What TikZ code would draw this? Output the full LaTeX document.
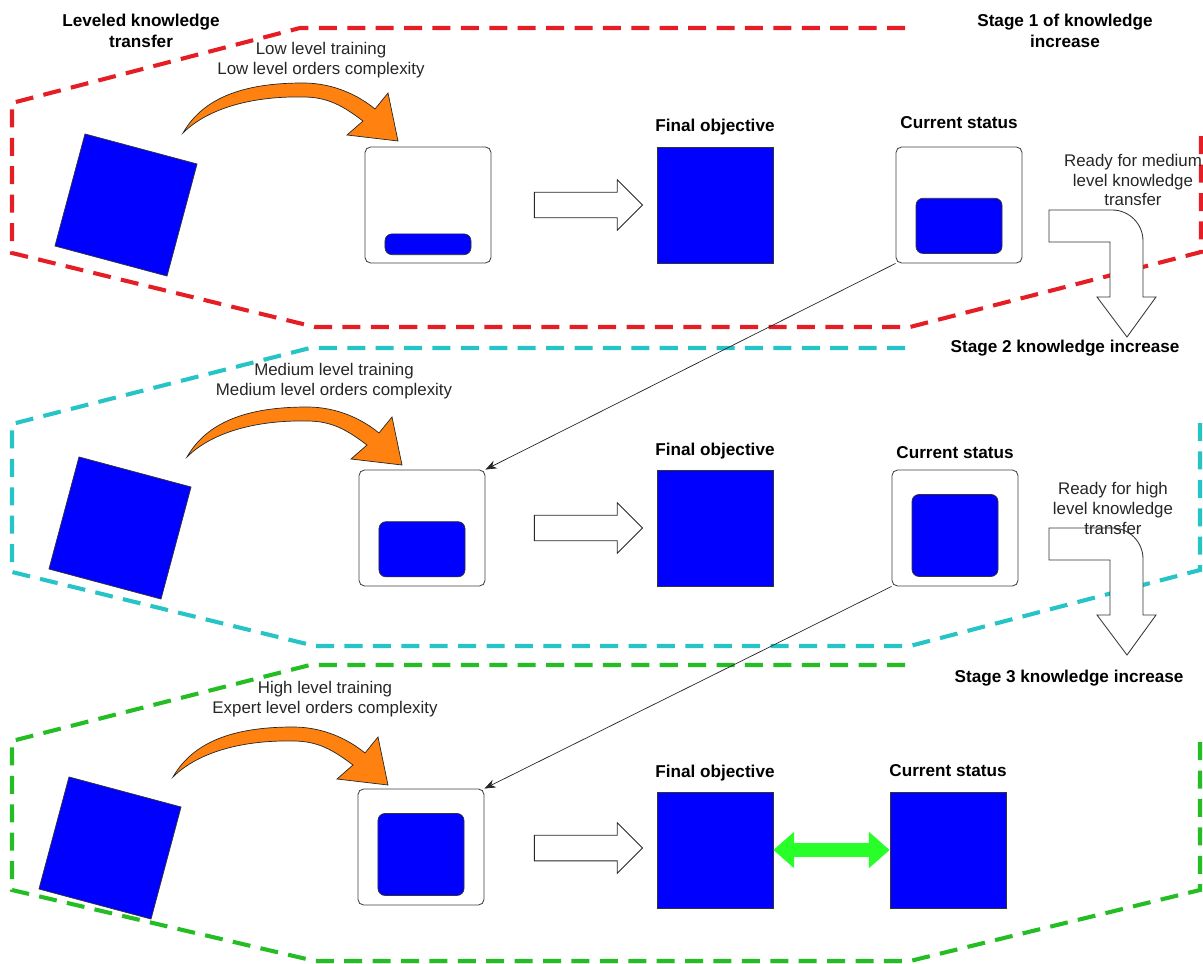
\documentclass[tikz,border=0pt]{standalone}
\usepackage{fontspec}
\setmainfont{Liberation Sans}
\usepackage{xcolor}
\usetikzlibrary{
    arrows.meta,
    positioning,
    calc,
    shapes.arrows
}
\definecolor{stageRed}{RGB}{228,30,36}
\definecolor{stageCyan}{RGB}{38,196,198}
\definecolor{stageGreen}{RGB}{36,190,36}
\definecolor{trainOrange}{RGB}{255,130,16}
\definecolor{matchGreen}{RGB}{40,255,40}
\tikzset{
  lbl/.style     = {font=\fontsize{12}{14.2}\selectfont, align=center, text=black!85},
  blbl/.style    = {font=\fontsize{12.2}{14.6}\selectfont\bfseries, align=center, text=black},
  frame/.style   = {line width=2.9pt, dash pattern=on 0.45cm off 0.26cm},
  tbox/.style    = {draw=black!75, fill=white, rounded corners=4pt, line width=0.6pt,
                    minimum width=3.15cm, minimum height=2.9cm},
  skill/.style   = {draw=black!80, fill=blue, rounded corners=5pt, line width=0.5pt,
                    minimum width=2.15cm, inner sep=0pt},
  goal/.style    = {draw=black!80, fill=blue, line width=0.5pt, minimum size=2.9cm},
  tilted/.style  = {goal, rotate=-15},
  blockarr/.style= {single arrow, draw=black!85, fill=white, line width=0.6pt,
                    inner sep=0.31cm, single arrow head extend=0.31cm,
                    minimum height=2.7cm},
  link/.style    = {-{Stealth[length=8pt,width=6pt]}, line width=0.5pt, black!85},
  match/.style   = {{Triangle[length=0.52cm,width=0.88cm]}-{Triangle[length=0.52cm,width=0.88cm]},
                    line width=0.33cm, matchGreen},
  trainarrow/.pic = {
    \draw[fill=trainOrange, draw=black!85, line width=0.5pt]
      (0,0) .. controls (20,-35) and (60,-50) .. (120,-50)
      .. controls (150,-50) and (175,-38) .. (192,-24)
      -- (205,-40) -- (215,8) -- (164,2) -- (180,-12)
      .. controls (160,-27) and (145,-36) .. (120,-36)
      .. controls (70,-37) and (25,-25) .. (0,0) -- cycle;
  },
  turnarrow/.pic = {
    \draw[fill=white, draw=black!80, line width=0.6pt]
      (0,32) -- (0,0) [rounded corners=22pt] -- (94,0) [sharp corners]
      -- (94,87) -- (107,87) -- (78,127) -- (48,87) -- (61,87) -- (61,32) -- cycle;
  }
}

\begin{document}
\begin{tikzpicture}[x=0.025cm, y=-0.025cm]
    \useasboundingbox (0,0) rectangle (1203,964);
    % stage frames
    \draw[frame, stageRed] (905,28) -- (300,28) -- (12,103) -- (12,253)
        -- (315,327) -- (910,327) -- (1201,252) -- (1201,130);
    \draw[frame, stageCyan] (905,348) -- (310,348) -- (12,424) -- (12,572)
        -- (315,646) -- (910,646) -- (1200,570) -- (1200,422);
    \draw[frame, stageGreen] (905,665) -- (310,665) -- (12,741) -- (12,890)
        -- (315,961) -- (910,961) -- (1200,890) -- (1200,740);

    \node[blbl](lkt) at (141,31) {Leveled knowledge\\transfer};
    \node[blbl](st1) at (1065,31) {Stage 1 of knowledge\\increase};
    \node[blbl](st2) at (1065,348) {Stage 2 knowledge increase};
    \node[blbl](st3) at (1069,678) {Stage 3 knowledge increase};

    % stage 1
    \node[tilted](k1) at (126,205) {};
    \pic at (183,133) {trainarrow};
    \node[lbl](l1) at (321,60) {Low level training\\Low level orders complexity};
    \node[tbox](t1) at (428,205) {};
    \node[skill, minimum height=0.52cm, above=0.21cm of t1.south](t1s) {};
    \node[blockarr](a1) at (582,205) {};
    \node[goal](g1) at (715,205) {};
    \node[tbox](s1) at (959,205) {};
    \node[skill, minimum height=1.38cm, above=0.24cm of s1.south](s1s) {};
    \node[blbl, above=5pt of g1] {Final objective};
    \node[blbl, above=9pt of s1] {Current status};
    \pic at (1049,210) {turnarrow};
    \node[lbl](r1) at (1133,180) {Ready for medium\\level knowledge\\transfer};

    % stage 2
    \node[tilted](k2) at (120,528) {};
    \pic at (187,457) {trainarrow};
    \node[lbl](l2) at (334,381) {Medium level training\\Medium level orders complexity};
    \node[tbox](t2) at (422,528) {};
    \node[skill, minimum height=1.38cm, above=0.23cm of t2.south](t2s) {};
    \node[blockarr](a2) at (582,528) {};
    \node[goal](g2) at (715,528) {};
    \node[tbox](s2) at (955,528) {};
    \node[skill, minimum height=2.05cm, above=0.24cm of s2.south](s2s) {};
    \node[blbl, above=4pt of g2] {Final objective};
    \node[blbl, above=4pt of s2] {Current status};
    \pic at (1049,528) {turnarrow};
    \node[lbl](r2) at (1113,508) {Ready for high\\level knowledge\\transfer};

    % stage 3
    \node[tilted](k3) at (110,848) {};
    \pic at (173,777) {trainarrow};
    \node[lbl](l3) at (325,699) {High level training\\Expert level orders complexity};
    \node[tbox](t3) at (421,847) {};
    \node[skill, minimum height=2.05cm, above=0.24cm of t3.south](t3s) {};
    \node[blockarr](a3) at (582,848) {};
    \node[goal](g3) at (715,850) {};
    \node[goal](s3) at (948,850) {};
    \node[blbl, above=4pt of g3] {Final objective};
    \node[blbl, above=7pt of s3] {Current status};
    \draw[match](g3) -- (s3);

    \draw[link](s1.south west) -- (t2.north east);
    \draw[link](s2.south west) -- (t3.north east);
\end{tikzpicture}
\end{document}
